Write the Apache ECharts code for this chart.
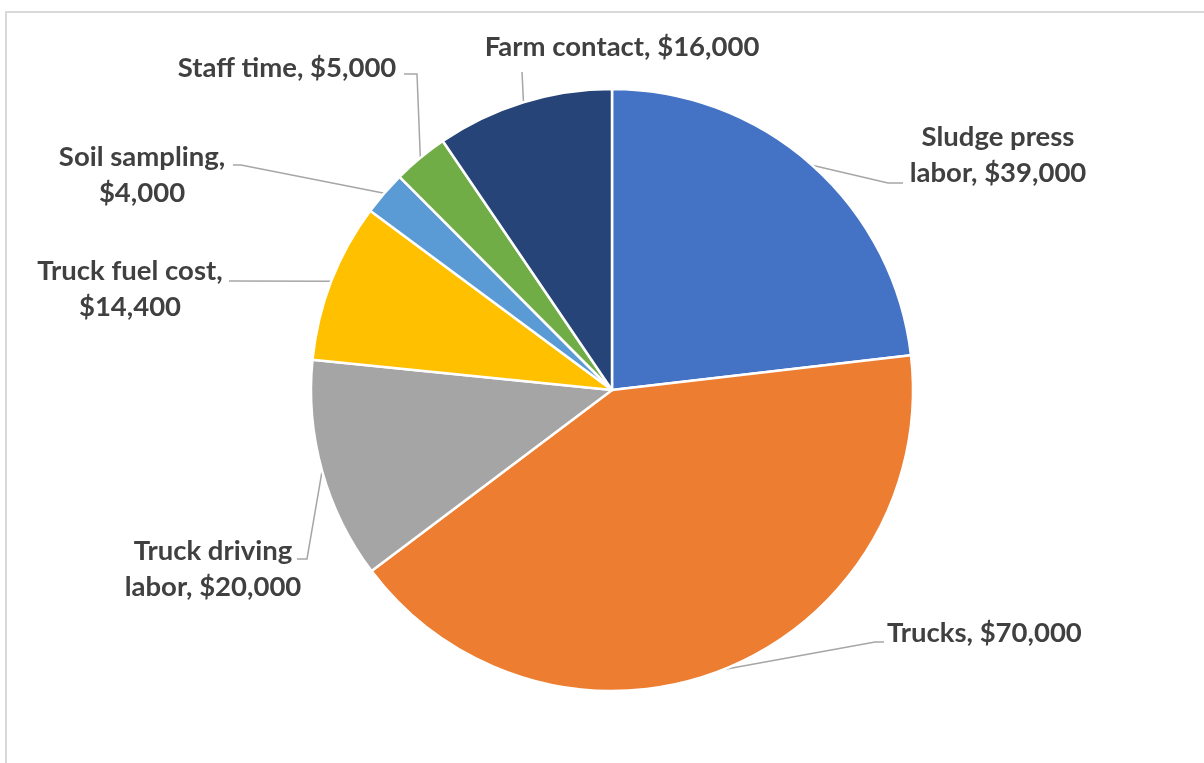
<!DOCTYPE html>
<html>
<head>
<meta charset="utf-8">
<script src="https://cdn.jsdelivr.net/npm/echarts@6/dist/echarts.min.js"></script>
<style>
html,body{margin:0;padding:0;background:#fff;}
#c{width:1204px;height:763px;}
</style>
</head>
<body>
<div id="c"></div>
<script>
// ---- data ----
const categories = ['Sludge press labor', 'Trucks', 'Truck driving labor', 'Truck fuel cost', 'Soil sampling', 'Staff time', 'Farm contact'];
const values = [39000, 70000, 20000, 14400, 4000, 5000, 16000];
const colors = ['#4472C4', '#ED7D31', '#A5A5A5', '#FFC000', '#5B9BD5', '#70AD47', '#264478'];
// words on first label line (0 = no break)
const firstLineWords = [2, 0, 2, 3, 2, 0, 0];

// ---- label layout (positions/styles only) ----
const labelLayouts = [
  {x: 998, y: 155, align: 'center', line: [[888, 183], [903, 183]]},
  {x: 887, y: 633, align: 'left',   line: [[875, 642], [884, 642]]},
  {x: 213, y: 569, align: 'center', line: [[307, 559], [297, 559]]},
  {x: 130, y: 289, align: 'center', line: [[229, 281]]},
  {x: 142, y: 175, align: 'center', line: [[241, 165], [233, 165]]},
  {x: 287, y: 68,  align: 'center', line: [[417, 74], [404, 74]]},
  {x: 622, y: 47,  align: 'center', line: [[522, 72]]}
];

function fmt(v) { return '$' + v.toLocaleString('en-US'); }
function labelText(i) {
  const full = categories[i] + ', ' + fmt(values[i]);
  const n = firstLineWords[i];
  if (!n) return full;
  const words = full.split(' ');
  return words.slice(0, n).join(' ') + '\n' + words.slice(n).join(' ');
}

const chart = echarts.init(document.getElementById('c'), null, {renderer: 'canvas'});
chart.setOption({
  animation: false,
  backgroundColor: '#fff',
  graphic: [{
    type: 'rect', silent: true,
    shape: {x: 6, y: 12, width: 1400, height: 1000},
    style: {fill: 'none', stroke: '#d9d9d9', lineWidth: 2}
  }],
  series: [{
    type: 'pie',
    center: [612, 390],
    radius: 301,
    startAngle: 90,
    clockwise: true,
    data: categories.map((c, i) => ({name: c, value: values[i], itemStyle: {color: colors[i]}})),
    itemStyle: {borderColor: '#fff', borderWidth: 2.5},
    label: {
      show: true,
      position: 'outside',
      formatter: p => labelText(p.dataIndex),
      fontFamily: 'Lato',
      fontWeight: 'bold',
      fontSize: 27.5,
      lineHeight: 36,
      color: '#404040'
    },
    labelLine: {show: true, length: 10, length2: 10, smooth: false, lineStyle: {color: '#a6a6a6', width: 1.5}},
    labelLayout: function (params) {
      const L = labelLayouts[params.dataIndex];
      const p0 = params.labelLinePoints ? params.labelLinePoints[0] : null;
      const res = {x: L.x, y: L.y, align: L.align, verticalAlign: 'middle', hideOverlap: false, moveOverlap: null};
      if (p0) res.labelLinePoints = [p0].concat(L.line.length === 1 ? [L.line[0], L.line[0]] : L.line);
      return res;
    },
    emphasis: {disabled: true}
  }]
});
</script>
</body>
</html>
